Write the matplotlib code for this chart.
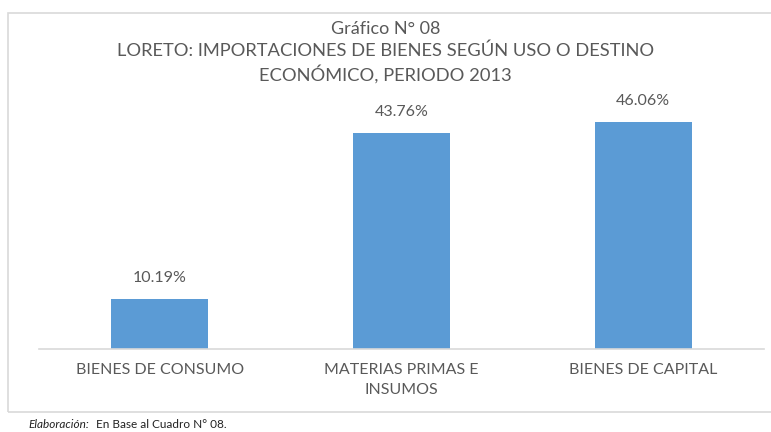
import matplotlib
matplotlib.use("Agg")
import matplotlib.pyplot as plt
from matplotlib.patches import Rectangle

categories = ["BIENES DE CONSUMO", "MATERIAS PRIMAS E\nINSUMOS", "BIENES DE CAPITAL"]
values = [10.19, 43.76, 46.06]
labels = ["10.19%", "43.76%", "46.06%"]

W, H = 771, 432
fig = plt.figure(figsize=(W/100, H/100), dpi=100)
fig.patch.set_facecolor("white")
FONT = ["Lato", "DejaVu Sans"]
GREY = "#595959"

# chart border
fig.patches.append(Rectangle((8/W, 1 - 412/H), (W + 10 - 8)/W, (412 - 13)/H,
                             transform=fig.transFigure, fill=False,
                             edgecolor="#d9d9d9", linewidth=1.2))

ax = fig.add_axes([39/W, 1 - 349/H, (764 - 39)/W, (349 - 102.5)/H])
x = range(len(categories))
ax.bar(x, values, width=0.40, color="#5b9bd5")
ax.set_xlim(-0.5, 2.5)
ax.set_ylim(0, 50)
for s in ["top", "right", "left"]:
    ax.spines[s].set_visible(False)
ax.spines["bottom"].set_color("#d9d9d9")
ax.spines["bottom"].set_linewidth(1.2)
ax.set_yticks([])
ax.set_xticks(list(x))
ax.set_xticklabels(categories, fontsize=11.5, color=GREY, family=FONT, linespacing=1.6)
ax.tick_params(axis="x", length=0, pad=10)
for xi, v, lab in zip(x, values, labels):
    ax.annotate(lab, (xi, v), xytext=(0, 10), textcoords="offset points",
                ha="center", va="bottom", fontsize=11.5, color=GREY, family=FONT)

fig.text(0.5, 1 - 29/H, "Gráfico N° 08", ha="center", va="center",
         fontsize=13, color=GREY, family=FONT)
fig.text(0.5, 1 - 51/H, "LORETO: IMPORTACIONES DE BIENES SEGÚN USO O DESTINO",
         ha="center", va="center", fontsize=13.2, color=GREY, family=FONT)
fig.text(0.5, 1 - 74/H, "ECONÓMICO, PERIODO 2013", ha="center", va="center",
         fontsize=13.2, color=GREY, family=FONT)

fig.text(28/W, 1 - 425/H, "Elaboración:", ha="left", va="center",
         fontsize=8.5, style="italic", color="#222222", family=FONT)
fig.text(96/W, 1 - 425/H, "En Base al Cuadro N° 08.", ha="left", va="center",
         fontsize=8.5, color="#222222", family=FONT)

fig.savefig("out.png", dpi=100, facecolor="white")
